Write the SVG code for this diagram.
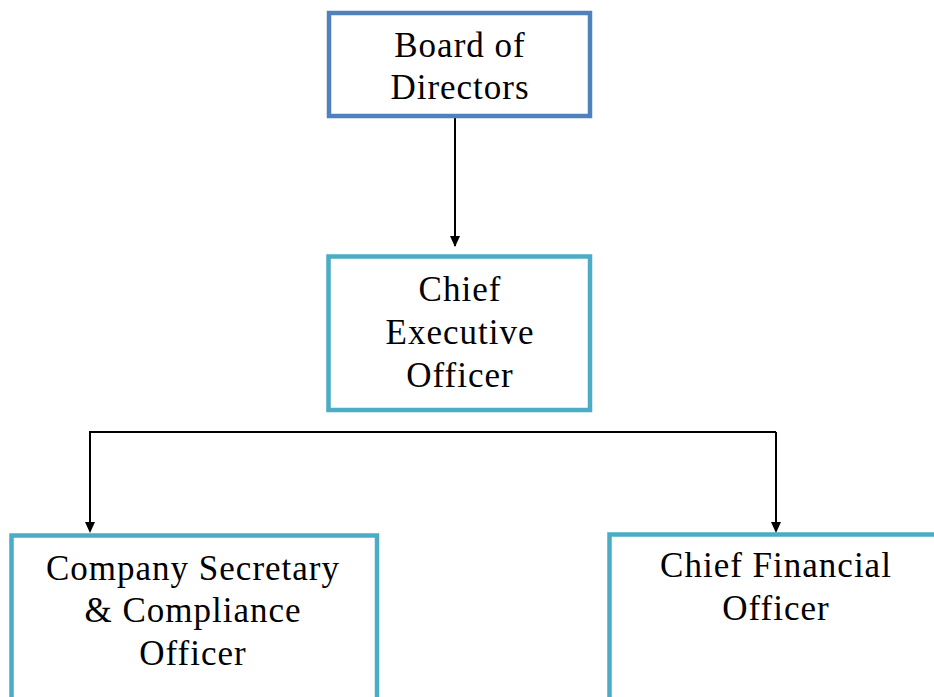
<svg xmlns="http://www.w3.org/2000/svg" width="934" height="697" viewBox="0 0 934 697">
<style>
.box{fill:#fff;stroke-width:4.5}
.blue{stroke:#4F81BD}
.aqua{stroke:#4BACC6}
.t{font-family:'Liberation Serif',serif;font-size:35px;fill:#000;text-anchor:middle;letter-spacing:1px}
.con{fill:none;stroke:#000;stroke-width:2}
</style>
<rect width="934" height="697" fill="#fff"/>
<g id="connectors">
<path class="con" d="M455,117 L455,246"/>
<path d="M450,236 L460,236 L455,247 Z" fill="#000"/>
<path class="con" d="M776,432 L90,432 L90,525"/>
<path d="M85,522 L95,522 L90,533 Z" fill="#000"/>
<path class="con" d="M776,432 L776,525"/>
<path d="M771,522 L781,522 L776,533 Z" fill="#000"/>
</g>
<g id="board">
<rect class="box blue" x="329" y="13" width="261" height="103"/>
<text class="t" x="460" y="57">Board of</text>
<text class="t" x="460" y="99">Directors</text>
</g>
<g id="ceo">
<rect class="box aqua" x="328.5" y="256.5" width="261.5" height="153.5"/>
<text class="t" x="460" y="301">Chief</text>
<text class="t" x="460" y="344">Executive</text>
<text class="t" x="460" y="387">Officer</text>
</g>
<g id="secretary">
<rect class="box aqua" x="11.5" y="535.5" width="365.5" height="170"/>
<text class="t" x="193" y="580">Company Secretary</text>
<text class="t" x="193" y="622">&amp; Compliance</text>
<text class="t" x="193" y="665">Officer</text>
</g>
<g id="cfo">
<rect class="box aqua" x="609.5" y="534.5" width="340" height="170"/>
<text class="t" x="776" y="577">Chief Financial</text>
<text class="t" x="776" y="620">Officer</text>
</g>
</svg>
